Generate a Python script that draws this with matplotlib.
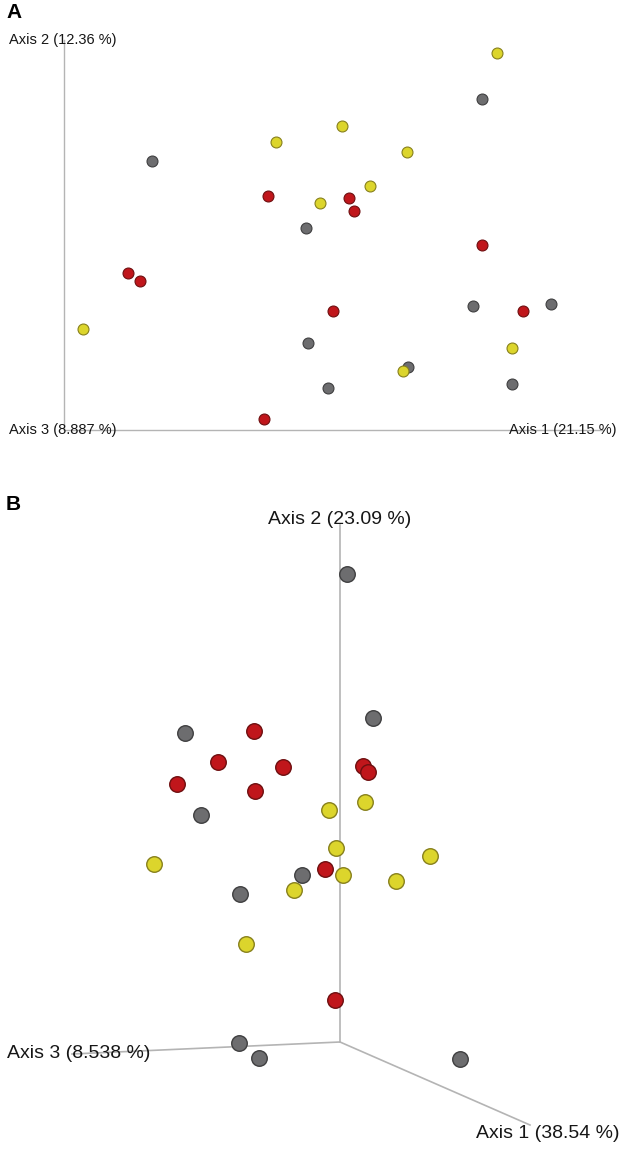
import matplotlib
matplotlib.use("Agg")
import matplotlib.pyplot as plt

plt.rcParams['font.family'] = ['Liberation Sans', 'DejaVu Sans']

W, H = 630, 1149

# ---- Panel A: projected sample coordinates (screen units) ----
a_gray_x = [151.7, 481.7, 306.0, 472.7, 550.7, 308.3, 408.3, 327.7, 512.0]
a_gray_y = [161.0, 99.0, 228.3, 305.7, 304.0, 343.3, 366.7, 388.3, 383.7]
a_yellow_x = [275.7, 497.3, 341.7, 406.7, 370.0, 320.0, 83.0, 512.0, 403.3]
a_yellow_y = [141.7, 53.3, 125.7, 151.7, 186.0, 202.7, 328.7, 347.7, 370.7]
a_red_x = [268.3, 349.0, 353.7, 128.0, 140.0, 264.0, 481.7, 332.7, 523.0]
a_red_y = [196.0, 197.7, 211.0, 272.7, 281.0, 419.3, 244.7, 311.0, 311.3]
a_axis_labels = ["Axis 1 (21.15 %)", "Axis 2 (12.36 %)", "Axis 3 (8.887 %)"]

# ---- Panel B ----
b_gray_x = [347.0, 372.7, 185.0, 201.3, 302.0, 240.0, 239.3, 259.3, 460.3]
b_gray_y = [574.3, 718.3, 732.7, 814.7, 874.7, 894.0, 1043.3, 1057.7, 1059.3]
b_red_x = [254.0, 217.7, 282.7, 177.3, 255.3, 362.7, 368.3, 324.7, 335.3]
b_red_y = [730.7, 761.7, 767.3, 783.7, 791.0, 766.0, 772.3, 868.7, 999.7]
b_yellow_x = [329.3, 365.3, 336.3, 430.0, 154.0, 343.3, 396.3, 293.7, 246.0]
b_yellow_y = [810.3, 802.3, 848.0, 855.7, 864.3, 875.3, 881.0, 890.3, 944.0]
b_axis_labels = ["Axis 1 (38.54 %)", "Axis 2 (23.09 %)", "Axis 3 (8.538 %)"]

GRAY, GRAY_E = "#6d6d6f", "#3f3f40"
RED, RED_E = "#c0161b", "#6e0f10"
YEL, YEL_E = "#dcd52c", "#87801c"
LINE = "#b4b4b4"
TXT = "#161616"

fig = plt.figure(figsize=(W / 100, H / 100), dpi=100)
ax = fig.add_axes([0, 0, 1, 1])
ax.set_xlim(0, W)
ax.set_ylim(H, 0)
ax.axis("off")

# Panel A axes
A_O = (64, 430)
ax.plot([A_O[0], A_O[0]], [A_O[1], 40], color=LINE, lw=1.0, zorder=1)
ax.plot([A_O[0], 603], [A_O[1], A_O[1]], color=LINE, lw=1.0, zorder=1)
ax.text(9, 40, a_axis_labels[1], fontsize=10.5, ha="left", va="center", color=TXT, zorder=2)
ax.text(9, 430, a_axis_labels[2], fontsize=10.5, ha="left", va="center", color=TXT, zorder=2)
ax.text(509, 430, a_axis_labels[0], fontsize=10.5, ha="left", va="center", color=TXT, zorder=2)
ax.text(6, 13, "A", fontsize=15, fontweight="bold", ha="left", va="center", color="black")

sA = 62
ax.scatter(a_gray_x, a_gray_y, s=sA, c=GRAY, edgecolors=GRAY_E, linewidths=0.8, zorder=3)
ax.scatter(a_red_x, a_red_y, s=sA, c=RED, edgecolors=RED_E, linewidths=0.8, zorder=3)
ax.scatter(a_yellow_x, a_yellow_y, s=sA, c=YEL, edgecolors=YEL_E, linewidths=0.8, zorder=4)

# Panel B axes
B_O = (340, 1042)
ax.plot([B_O[0], B_O[0]], [B_O[1], 525], color=LINE, lw=1.2, zorder=1)
ax.plot([B_O[0], 72], [B_O[1], 1054], color=LINE, lw=1.2, zorder=1)
ax.plot([B_O[0], 530], [B_O[1], 1125], color=LINE, lw=1.2, zorder=1)
ax.text(340, 519, b_axis_labels[1], fontsize=14, ha="center", va="center", color=TXT, zorder=2)
ax.text(7, 1053, b_axis_labels[2], fontsize=14, ha="left", va="center", color=TXT, zorder=2)
ax.text(476, 1133, b_axis_labels[0], fontsize=14, ha="left", va="center", color=TXT, zorder=2)
ax.text(6, 505, "B", fontsize=15, fontweight="bold", ha="left", va="center", color="black")

sB = 125
ax.scatter(b_gray_x, b_gray_y, s=sB, c=GRAY, edgecolors=GRAY_E, linewidths=1.0, zorder=3)
ax.scatter(b_red_x, b_red_y, s=sB, c=RED, edgecolors=RED_E, linewidths=1.0, zorder=3)
ax.scatter(b_yellow_x, b_yellow_y, s=sB, c=YEL, edgecolors=YEL_E, linewidths=1.0, zorder=3)

fig.savefig("out.png", dpi=100)
